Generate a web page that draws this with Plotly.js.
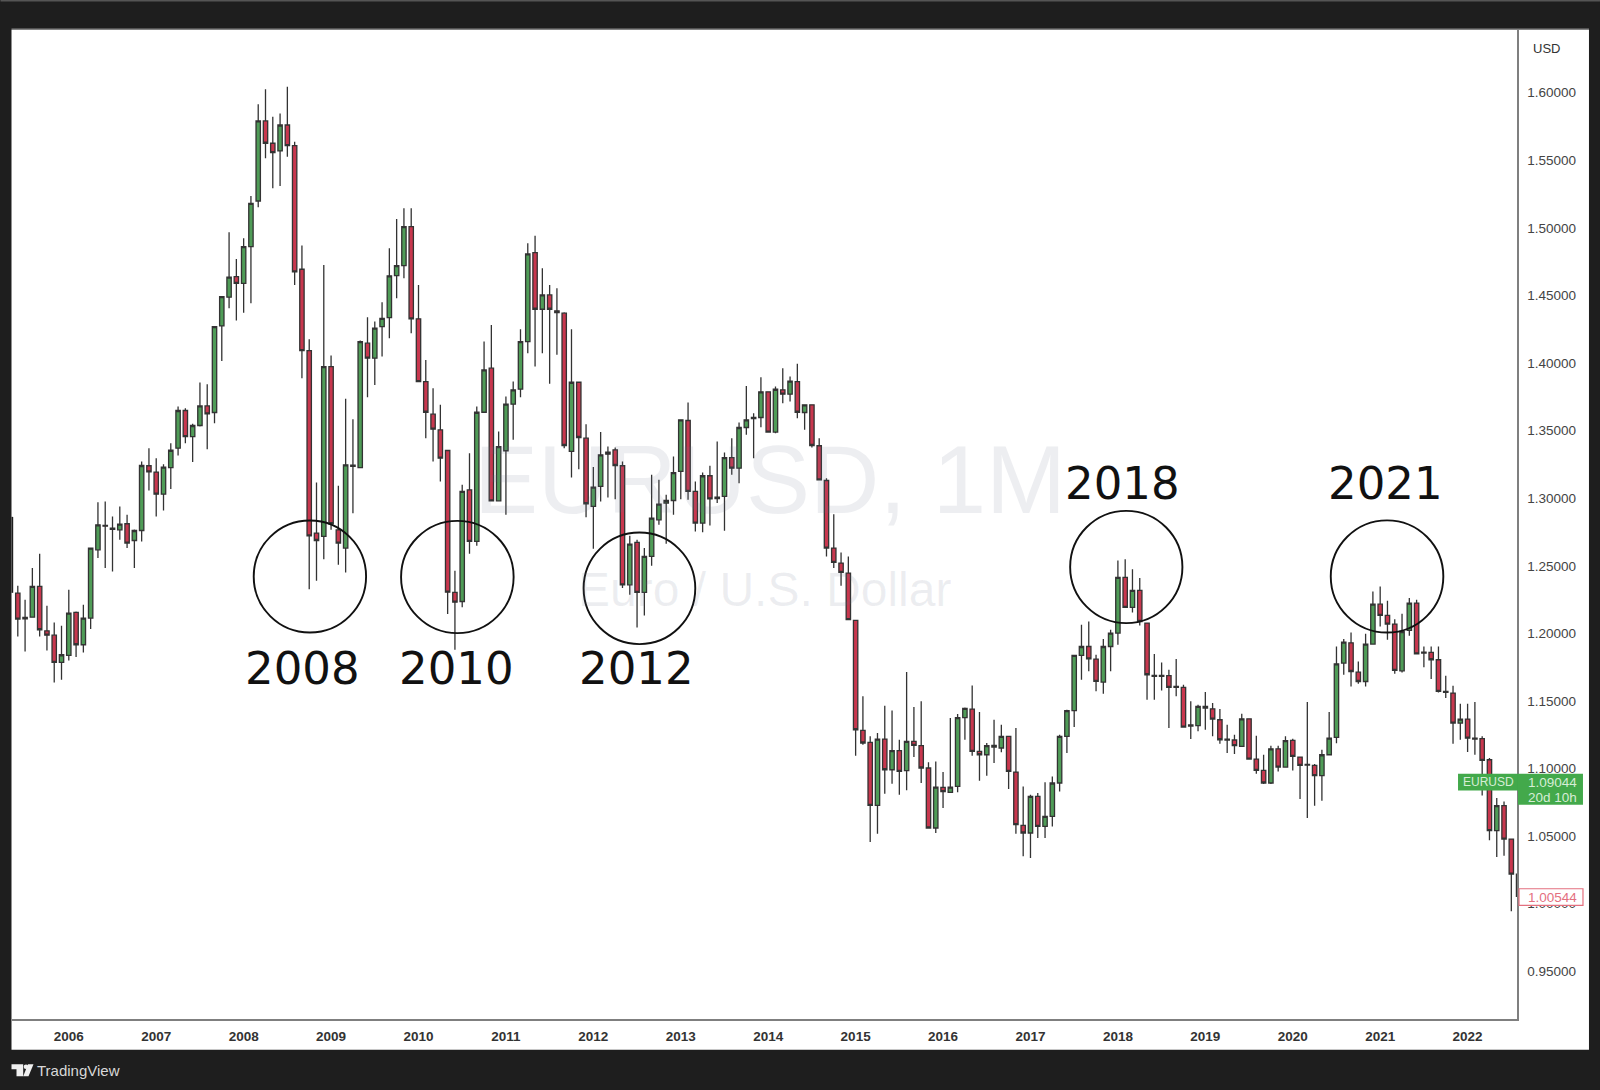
<!DOCTYPE html>
<html><head><meta charset="utf-8">
<script src="https://cdn.plot.ly/plotly-3.0.1.min.js"></script>
<style>html,body{margin:0;padding:0;background:#1e1e1e;overflow:hidden}#chart{width:1600px;height:1090px}</style>
</head><body><div id="chart"></div>
<script>
// Monthly EUR/USD candles, Jun 2005 .. Aug 2022
const open_ = [1.2298,1.2118,1.2120,1.2347,1.2019,1.1987,1.1785,1.1837,1.2155,1.1916,1.2113,1.2618,1.2798,1.2779,1.2766,1.2811,1.2687,1.2761,1.3240,1.3193,1.3030,1.3227,1.3370,1.3649,1.3456,1.3538,1.3683,1.3634,1.4275,1.4487,1.4640,1.4590,1.4862,1.5199,1.5791,1.5626,1.5569,1.5761,1.5608,1.4694,1.4092,1.2742,1.2717,1.3974,1.2766,1.2631,1.3244,1.3227,1.4147,1.4036,1.4270,1.4336,1.4647,1.4721,1.5009,1.4327,1.3863,1.3622,1.3506,1.3353,1.2303,1.2236,1.3062,1.2680,1.3636,1.3962,1.2981,1.3351,1.3696,1.3807,1.4159,1.4817,1.4398,1.4504,1.4386,1.4369,1.3346,1.3858,1.3444,1.2939,1.3087,1.3341,1.3358,1.3240,1.2359,1.2673,1.2303,1.2569,1.2840,1.2964,1.2983,1.3198,1.3575,1.3050,1.2816,1.3166,1.3008,1.3013,1.3301,1.3222,1.3523,1.3589,1.3597,1.3787,1.3489,1.3802,1.3770,1.3863,1.3634,1.3691,1.3388,1.3131,1.2631,1.2520,1.2446,1.2096,1.1282,1.1194,1.0728,1.1218,1.0991,1.1132,1.0984,1.1201,1.1169,1.1004,1.0560,1.0861,1.0824,1.0868,1.1376,1.1440,1.1127,1.1102,1.1159,1.1152,1.1238,1.0974,1.0580,1.0523,1.0794,1.0572,1.0646,1.0893,1.1238,1.1428,1.1837,1.1903,1.1810,1.1640,1.1903,1.2002,1.2414,1.2192,1.2318,1.2076,1.1689,1.1682,1.1687,1.1608,1.1600,1.1314,1.1317,1.1460,1.1442,1.1361,1.1218,1.1211,1.1164,1.1368,1.1070,1.0986,1.0893,1.1146,1.1011,1.1208,1.1085,1.1026,1.1023,1.0947,1.1102,1.1230,1.1780,1.1930,1.1713,1.1644,1.1921,1.2216,1.2133,1.2069,1.1723,1.2022,1.2224,1.1861,1.1859,1.1805,1.1571,1.1558,1.1336,1.1366,1.1225,1.1221,1.1065,1.0540,1.0725,1.0478,1.0219];
const high_ = [1.2352,1.2249,1.2483,1.2589,1.2204,1.2081,1.2056,1.2323,1.2162,1.2212,1.2634,1.2971,1.2976,1.2865,1.2939,1.2877,1.2768,1.3272,1.3370,1.3296,1.3252,1.3407,1.3678,1.3666,1.3550,1.3856,1.3843,1.4275,1.4495,1.4967,1.4770,1.4923,1.5236,1.5914,1.6025,1.5823,1.5847,1.6045,1.5638,1.4869,1.4176,1.3116,1.4726,1.4055,1.3092,1.3735,1.3585,1.4166,1.4339,1.4307,1.4450,1.4849,1.5066,1.5145,1.5145,1.4578,1.4023,1.3814,1.3691,1.3358,1.2463,1.3099,1.3333,1.3678,1.4159,1.4282,1.3493,1.3752,1.3863,1.4250,1.4886,1.4941,1.4702,1.4578,1.4554,1.4376,1.4250,1.3858,1.3548,1.3230,1.3489,1.3383,1.3375,1.3272,1.2722,1.2692,1.2631,1.3173,1.3136,1.3025,1.3309,1.3585,1.3708,1.3124,1.3190,1.3240,1.3419,1.3338,1.3444,1.3560,1.3831,1.3629,1.3895,1.3787,1.3826,1.3962,1.3900,1.3994,1.3691,1.3691,1.3444,1.3148,1.2882,1.2599,1.2569,1.2101,1.1534,1.1238,1.1263,1.1465,1.1430,1.1213,1.1714,1.1455,1.1497,1.1046,1.1053,1.0974,1.1373,1.1403,1.1452,1.1615,1.1418,1.1189,1.1361,1.1324,1.1238,1.1300,1.0868,1.0807,1.0819,1.0898,1.0942,1.1250,1.1435,1.1842,1.2064,1.2088,1.1842,1.1958,1.2027,1.2539,1.2549,1.2475,1.2409,1.2076,1.1847,1.1785,1.1731,1.1810,1.1620,1.1497,1.1472,1.1566,1.1484,1.1440,1.1324,1.1250,1.1405,1.1368,1.1243,1.1102,1.1169,1.1169,1.1238,1.1221,1.1090,1.1492,1.1033,1.1139,1.1418,1.1903,1.1958,1.2007,1.1792,1.1997,1.2310,1.2347,1.2241,1.2105,1.2145,1.2261,1.2249,1.1903,1.1903,1.1903,1.1686,1.1613,1.1479,1.1479,1.1492,1.1238,1.1078,1.0782,1.0757,1.0478,1.0265];
const low_ = [1.1977,1.1866,1.2115,1.1977,1.1874,1.1637,1.1657,1.1800,1.1825,1.1859,1.2032,1.2557,1.2483,1.2458,1.2692,1.2631,1.2483,1.2680,1.3057,1.2865,1.2909,1.3069,1.3316,1.3407,1.3267,1.3530,1.3363,1.3555,1.4016,1.4405,1.4314,1.4373,1.4442,1.5152,1.5515,1.5293,1.5310,1.5527,1.4578,1.3888,1.2327,1.2389,1.2549,1.2766,1.2507,1.2451,1.2889,1.3222,1.3747,1.3838,1.4048,1.4184,1.4479,1.4627,1.4221,1.3860,1.3444,1.3272,1.3124,1.2143,1.1879,1.2194,1.2589,1.2648,1.3636,1.2978,1.2976,1.2877,1.3432,1.3747,1.4073,1.3974,1.4073,1.3846,1.4061,1.3370,1.3153,1.3215,1.2860,1.2626,1.2976,1.3005,1.2993,1.2335,1.2285,1.2044,1.2133,1.2500,1.2803,1.2663,1.2877,1.2993,1.2988,1.2754,1.2749,1.2798,1.2964,1.2759,1.3173,1.3111,1.3469,1.3296,1.3525,1.3489,1.3481,1.3703,1.3715,1.3592,1.3506,1.3375,1.3136,1.2569,1.2483,1.2352,1.2101,1.1095,1.1176,1.0456,1.0518,1.0814,1.0888,1.0807,1.0839,1.1085,1.0893,1.0560,1.0523,1.0708,1.0819,1.0824,1.1213,1.1095,1.0910,1.0947,1.1041,1.1120,1.0848,1.0518,1.0351,1.0338,1.0486,1.0486,1.0572,1.0831,1.1115,1.1307,1.1657,1.1719,1.1571,1.1553,1.1719,1.1916,1.2192,1.2155,1.2059,1.1509,1.1509,1.1578,1.1300,1.1534,1.1307,1.1218,1.1275,1.1287,1.1238,1.1184,1.1115,1.1107,1.1159,1.1065,1.0962,1.0885,1.0885,1.0979,1.1011,1.0986,1.0774,1.0634,1.0725,1.0762,1.1102,1.1188,1.1694,1.1607,1.1627,1.1607,1.1921,1.2051,1.1953,1.1701,1.1711,1.1982,1.1849,1.1750,1.1662,1.1563,1.1521,1.1184,1.1213,1.1122,1.1102,1.0801,1.0469,1.0345,1.0355,0.9944,1.0040];
const close_ = [1.2106,1.2108,1.2347,1.2027,1.1987,1.1785,1.1842,1.2150,1.1916,1.2113,1.2631,1.2803,1.2793,1.2769,1.2808,1.2668,1.2761,1.3242,1.3195,1.3030,1.3230,1.3355,1.3649,1.3456,1.3538,1.3683,1.3624,1.4270,1.4492,1.4635,1.4590,1.4862,1.5182,1.5791,1.5626,1.5557,1.5761,1.5608,1.4674,1.4092,1.2722,1.2687,1.3974,1.2811,1.2668,1.3247,1.3235,1.4159,1.4036,1.4258,1.4331,1.4645,1.4721,1.5009,1.4327,1.3863,1.3636,1.3511,1.3296,1.2305,1.2231,1.3050,1.2680,1.3636,1.3949,1.2981,1.3382,1.3696,1.3802,1.4159,1.4807,1.4398,1.4504,1.4398,1.4374,1.3390,1.3858,1.3449,1.2959,1.3082,1.3321,1.3326,1.3242,1.2359,1.2660,1.2303,1.2569,1.2853,1.2956,1.2983,1.3190,1.3580,1.3050,1.2816,1.3166,1.2995,1.2998,1.3301,1.3222,1.3523,1.3580,1.3597,1.3787,1.3489,1.3806,1.3770,1.3866,1.3636,1.3691,1.3390,1.3136,1.2631,1.2525,1.2451,1.2101,1.1287,1.1189,1.0728,1.1218,1.0991,1.1132,1.0979,1.1201,1.1171,1.1004,1.0560,1.0863,1.0829,1.0863,1.1376,1.1445,1.1127,1.1102,1.1169,1.1171,1.1238,1.0979,1.0585,1.0523,1.0794,1.0572,1.0646,1.0893,1.1238,1.1428,1.1837,1.1903,1.1812,1.1645,1.1903,1.2002,1.2414,1.2192,1.2318,1.2088,1.1694,1.1682,1.1689,1.1600,1.1600,1.1307,1.1322,1.1460,1.1447,1.1366,1.1213,1.1211,1.1169,1.1368,1.1070,1.0986,1.0893,1.1146,1.1011,1.1206,1.1090,1.1023,1.1031,1.0947,1.1102,1.1225,1.1775,1.1935,1.1718,1.1644,1.1921,1.2216,1.2133,1.2069,1.1726,1.2014,1.2224,1.1849,1.1854,1.1805,1.1571,1.1563,1.1336,1.1366,1.1225,1.1218,1.1060,1.0540,1.0725,1.0478,1.0219,1.00544];

const firstYear = 2005, firstMonth = 6;
const months = open_.map((_, i) => {
  const m = firstMonth - 1 + i;
  return (firstYear + Math.floor(m / 12)) + '-' + String(m % 12 + 1).padStart(2, '0');
});
const yearLabels = ['2006','2007','2008','2009','2010','2011','2012','2013','2014','2015','2016','2017','2018','2019','2020','2021','2022'];
const yearTicks = yearLabels.map(y => y + '-01');
const priceTicks = [0.95,1.00,1.05,1.10,1.15,1.20,1.25,1.30,1.35,1.40,1.45,1.50,1.55,1.60];
const priceTickText = priceTicks.map(v => v.toFixed(5));
const yearNotes = [['2008',302.5,669],['2010',456,669],['2012',636,669],['2018',1122,484],['2021',1385,484]];
const rings = [[253.3,365.7,520.7,632.7],[400.7,513.3,521,633.3],[583.3,695,532.7,644.3],[1070,1182.3,511,623.3],[1330.7,1443.3,520.5,632.7]];

// pixel frame of the plot area
const L = 11.5, R = 1517, T = 30, B = 1019.3;
const px = x => (x - L) / (R - L);
const py = y => (B - y) / (B - T);
const box = (x0, x1, y0, y1, fill, layer, line) => ({type:'rect', xref:'paper', yref:'paper', x0:px(x0), x1:px(x1), y0:py(y0), y1:py(y1), fillcolor:fill, line:line || {width:0}, layer:layer || 'above'});
const poly = (pts, fill) => ({type:'path', xref:'paper', yref:'paper', fillcolor:fill, line:{width:0}, layer:'above',
  path:'M' + pts.map(p => px(p[0]).toFixed(6) + ' ' + py(p[1]).toFixed(6)).join(' L') + ' Z'});
const note = (text, x, y, size, color, family) => ({text, xref:'paper', yref:'paper', x:px(x), y:py(y), xanchor:'center', yanchor:'middle', showarrow:false,
  font:{family:family || '"Liberation Sans", Arial, sans-serif', size, color}});

const shapes = [
  box(11, 1589, 30, 1050, '#ffffff', 'below'),
  box(11, 1589, 28.5, 30, '#858585', 'below'),
  box(0, 1600, 0, 1.5, '#555555', 'below'),
  box(11, 12.7, 517, 593, '#1e1e1e'),
  box(1458, 1518, 774, 790.7, '#43a94b'),
  box(1518, 1583, 774, 805, '#43a94b'),
  box(1519, 1583, 889, 905.7, '#ffffff', 'above', {color:'#e4707f', width:1.2}),
  poly([[11,1064.5],[22.7,1064.5],[22.7,1076.5],[16,1076.5],[16,1069.5],[11,1069.5]], '#f0f0f0'),
  poly([[27.5,1064.5],[33,1064.5],[28,1076.5],[22.7,1076.5]], '#f0f0f0'),
  {type:'circle', xref:'paper', yref:'paper', x0:px(23.2), x1:px(27.8), y0:py(1064.7), y1:py(1069.3), fillcolor:'#f0f0f0', line:{width:0}, layer:'above'}
].concat(rings.map(r => ({type:'circle', xref:'paper', yref:'paper', x0:px(r[0]), x1:px(r[1]), y0:py(r[2]), y1:py(r[3]), line:{color:'#111111', width:1.9}, layer:'above'})));

const annotations = [
  note('EURUSD, 1M', 770, 480, 96, 'rgba(110,118,140,0.12)'),
  note('Euro / U.S. Dollar', 764, 590, 48, 'rgba(110,118,140,0.12)'),
  note('USD', 1546.5, 49, 13, '#333333'),
  note('EURUSD', 1488, 782.5, 12, '#d6edd6'),
  note('1.09044', 1552.5, 782.5, 13.5, '#d6edd6'),
  note('20d 10h', 1552.5, 798, 13.5, '#d6edd6'),
  note('1.00544', 1552.5, 897.5, 13.5, '#e4707f'),
  note('TradingView', 78.5, 1070.7, 15, '#d8d8d8')
].concat(yearNotes.map(n => note(n[0], n[1], n[2], 45, '#111111', '"DejaVu Sans", sans-serif')));

const trace = {
  type:'candlestick', x:months, open:open_, high:high_, low:low_, close:close_,
  whiskerwidth:0, hoverinfo:'skip',
  increasing:{line:{color:'#333333', width:1.3}, fillcolor:'#4f9c57'},
  decreasing:{line:{color:'#333333', width:1.3}, fillcolor:'#c8374e'}
};

const layout = {
  width:1600, height:1090, showlegend:false, boxgap:0.4, boxgroupgap:0,
  margin:{l:L, r:1600-R, t:T, b:1090-B, pad:0},
  paper_bgcolor:'#1e1e1e', plot_bgcolor:'#ffffff',
  font:{family:'"Liberation Sans", Arial, sans-serif'},
  xaxis:{type:'category', range:[-0.796, 205.78], categoryorder:'array', categoryarray:months,
    rangeslider:{visible:false}, showgrid:false, zeroline:false, ticks:'', tickmode:'array',
    tickvals:yearTicks, ticktext:yearLabels, tickangle:0, ticklabelstandoff:4,
    tickfont:{size:13.5, color:'#333333', family:'"Liberation Sans", Arial, sans-serif', weight:700},
    showline:true, linecolor:'#7f7f7f', linewidth:1.5},
  yaxis:{side:'right', range:[0.9147, 1.6464], showgrid:false, zeroline:false, ticks:'', tickmode:'array',
    tickvals:priceTicks, ticktext:priceTickText, ticklabelstandoff:6,
    tickfont:{size:13.5, color:'#444444'}, showline:true, linecolor:'#7f7f7f', linewidth:1.5},
  shapes, annotations
};
Plotly.newPlot('chart', [trace], layout, {staticPlot:true, displayModeBar:false});
</script></body></html>
